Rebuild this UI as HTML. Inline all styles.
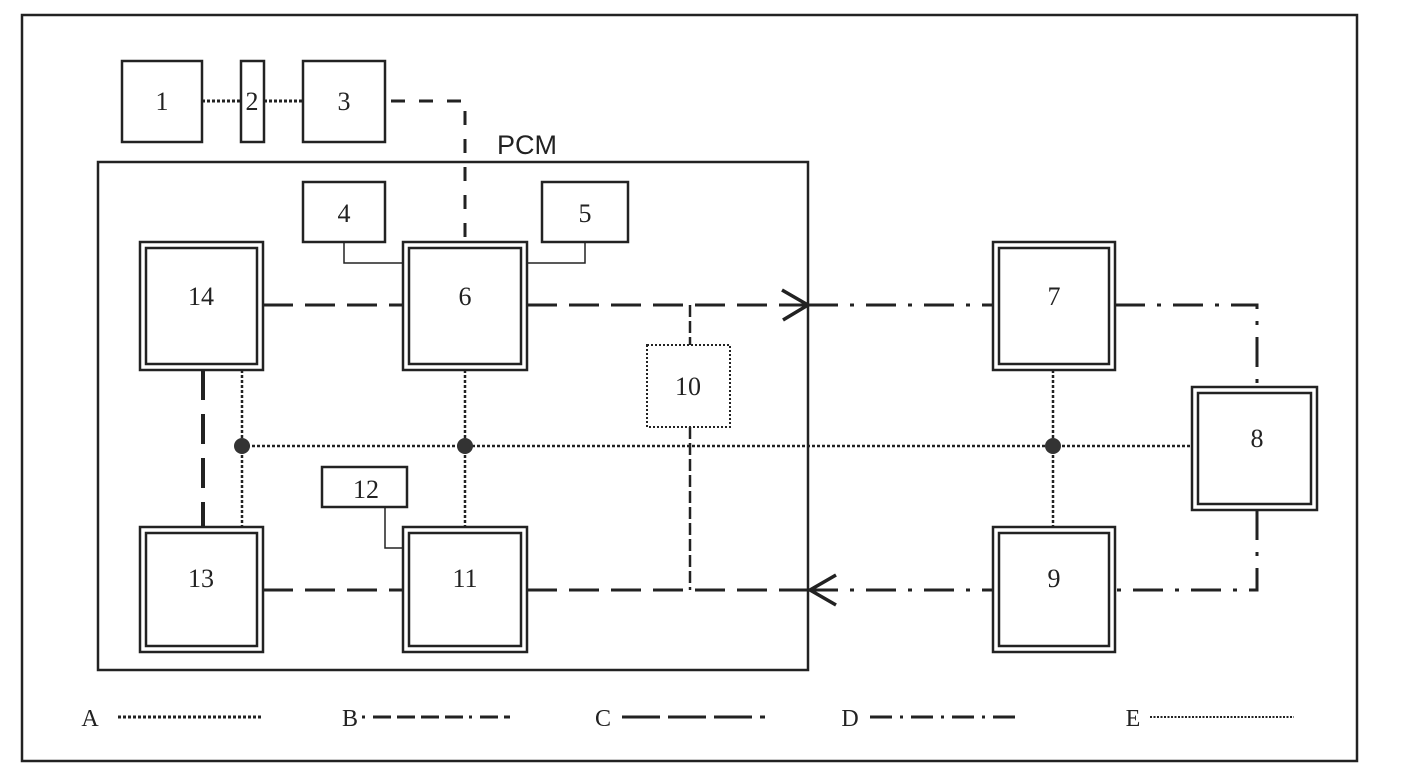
<!DOCTYPE html>
<html><head><meta charset="utf-8"><style>
html,body{margin:0;padding:0;background:#fff}
svg{display:block}
text{font-family:"Liberation Serif",serif;font-size:26px;fill:#222;text-anchor:middle}
</style></head><body>
<svg width="1408" height="770" viewBox="0 0 1408 770" xmlns="http://www.w3.org/2000/svg">
<g fill="none" stroke="#222">
<rect x="22" y="15" width="1335" height="746" stroke-width="2.5"/>
<!-- top boxes -->
<rect x="122" y="61" width="80" height="81" stroke-width="2.5"/>
<rect x="241" y="61" width="23" height="81" stroke-width="2.5"/>
<rect x="303" y="61" width="82" height="81" stroke-width="2.5"/>
<!-- PCM -->
<rect x="98" y="162" width="710" height="508" stroke-width="2.5"/>
<rect x="303" y="182" width="82" height="60" stroke-width="2.5"/>
<rect x="542" y="182" width="86" height="60" stroke-width="2.5"/>
<rect x="322" y="467" width="85" height="40" stroke-width="2.5"/>
<rect x="647" y="345" width="83" height="82" stroke-width="2" stroke-dasharray="2 2"/>
<!-- double boxes -->
<g stroke-width="2.5">
<rect x="140" y="242" width="123" height="128"/><rect x="146" y="248" width="111" height="116"/>
<rect x="403" y="242" width="124" height="128"/><rect x="409" y="248" width="112" height="116"/>
<rect x="140" y="527" width="123" height="125"/><rect x="146" y="533" width="111" height="113"/>
<rect x="403" y="527" width="124" height="125"/><rect x="409" y="533" width="112" height="113"/>
<rect x="993" y="242" width="122" height="128"/><rect x="999" y="248" width="110" height="116"/>
<rect x="993" y="527" width="122" height="125"/><rect x="999" y="533" width="110" height="113"/>
<rect x="1192" y="387" width="125" height="123"/><rect x="1198" y="393" width="113" height="111"/>
</g>
<!-- dotted A lines top -->
<g stroke-width="3" stroke-dasharray="3 2">
<line x1="202" y1="101" x2="241" y2="101"/>
<line x1="264" y1="101" x2="303" y2="101"/>
</g>
<!-- dashed 3->6 -->
<polyline points="391,101 465,101 465,242" stroke-width="3" stroke-dasharray="14 14"/>
<!-- thin connectors -->
<g stroke-width="1.5">
<polyline points="344,242 344,263 403,263"/>
<polyline points="585,242 585,263 527,263"/>
<polyline points="385,507 385,548 403,548"/>
</g>
<!-- C dashed lines -->
<g stroke-width="3" stroke-dasharray="30 12">
<line x1="263" y1="305" x2="403" y2="305"/>
<line x1="527" y1="305" x2="808" y2="305"/>
<line x1="263" y1="590" x2="403" y2="590"/>
<line x1="527" y1="590" x2="808" y2="590"/>
</g>
<!-- B 14-13 -->
<line x1="203" y1="370" x2="203" y2="527" stroke-width="4" stroke-dasharray="30 14"/>
<!-- 10 connections -->
<g stroke-width="2.5" stroke-dasharray="12 4">
<line x1="690" y1="305" x2="690" y2="345"/>
<line x1="690" y1="427" x2="690" y2="590"/>
</g>
<!-- D dash-dot -->
<g stroke-width="3" stroke-dasharray="30 12 4 12">
<line x1="808" y1="305" x2="993" y2="305"/>
<line x1="808" y1="590" x2="993" y2="590"/>
<polyline points="1115,305 1257,305 1257,387"/>
<polyline points="1257,510 1257,590 1115,590"/>
</g>
<!-- E dotted -->
<g stroke-width="2.5" stroke-dasharray="3 2">
<line x1="242" y1="446" x2="1192" y2="446"/>
<line x1="242" y1="370" x2="242" y2="527"/>
<line x1="465" y1="370" x2="465" y2="527"/>
<line x1="1053" y1="370" x2="1053" y2="527"/>
</g>
<!-- arrows -->
<g stroke-width="3.5">
<polyline points="782,290 808,305 783,320"/>
<polyline points="836,575 810,590 836,605"/>
</g>
<!-- legend -->
<g stroke-width="3">
<line x1="118" y1="717" x2="262" y2="717" stroke-dasharray="3 2"/>
<line x1="362" y1="717" x2="510" y2="717" stroke-dasharray="3 8 18 6 18 6 18 6 18 6"/>
<line x1="622" y1="717" x2="765" y2="717" stroke-dasharray="38 8"/>
<line x1="870" y1="717" x2="1015" y2="717" stroke-dasharray="22 8 3 8"/>
<line x1="1150" y1="717" x2="1294" y2="717" stroke-dasharray="2 1.5" stroke-width="2"/>
</g>
</g>
<g fill="#333">
<circle cx="242" cy="446" r="8"/><circle cx="465" cy="446" r="8"/><circle cx="1053" cy="446" r="8"/>
</g>
<text x="162" y="110">1</text><text x="252" y="110">2</text><text x="344" y="110">3</text>
<text x="344" y="222">4</text><text x="585" y="222">5</text>
<text x="201" y="305">14</text><text x="465" y="305">6</text>
<text x="1054" y="305">7</text><text x="1257" y="447">8</text>
<text x="201" y="587">13</text><text x="465" y="587">11</text><text x="1054" y="587">9</text>
<text x="366" y="498">12</text><text x="688" y="395">10</text>
<text x="527" y="154" style="font-family:'Liberation Sans',sans-serif;font-size:27px">PCM</text>
<text x="90" y="726" style="font-size:24px">A</text>
<text x="350" y="726" style="font-size:24px">B</text>
<text x="603" y="726" style="font-size:24px">C</text>
<text x="850" y="726" style="font-size:24px">D</text>
<text x="1133" y="726" style="font-size:24px">E</text>
</svg>
</body></html>
